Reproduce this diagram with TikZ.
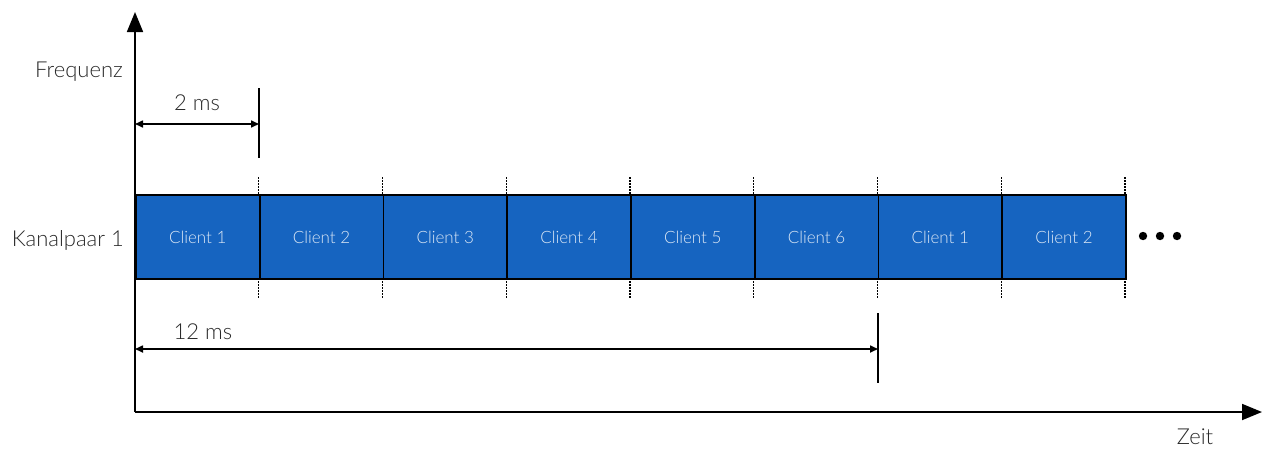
\documentclass[tikz,border=0pt]{standalone}
\usepackage{fontspec}
\setmainfont{Lato}[UprightFont=* Light]
\usetikzlibrary{arrows.meta}
\definecolor{slotblue}{RGB}{22,100,192}
\definecolor{labelgray}{RGB}{40,40,40}
\begin{document}
\begin{tikzpicture}[x=1pt,y=-1pt,
  axis/.style={line width=1.8pt,-{Triangle[length=20pt,width=16pt]}},
  slot/.style={draw=black,line width=1.8pt,fill=slotblue,minimum width=123.75pt,minimum height=84pt,inner sep=0pt,anchor=north west,text=white!85!slotblue,font=\fontsize{17}{20}\selectfont},
  tick/.style={line width=1.2pt,dash pattern=on 1.5pt off 1.5pt},
  dim/.style={line width=1.6pt,{Triangle[length=8pt,width=7pt]}-{Triangle[length=8pt,width=7pt]}},
  bar/.style={line width=1.8pt},
  lbl/.style={text=labelgray,font=\fontsize{22}{26}\selectfont,inner sep=0pt}]
\useasboundingbox (0,0) rectangle (1265,448);
% axes
\coordinate (O) at (135,412);
\coordinate (ytop) at (135,12);
\coordinate (xend) at (1262,412);
\draw[axis] (O) -- (ytop);
\draw[axis] (O) -- (xend);
\node[lbl,anchor=east] (freq) at (123,72) {Frequenz};
\node[lbl] (zeit) at (1195,437) {Zeit};
\node[lbl,anchor=east] (kanal) at (124,240) {Kanalpaar 1};
% time slots
\foreach \c [count=\i from 0] in {1,2,3,4,5,6,1,2} {
  \node[slot] (s\i) at (135+123.75*\i,194) {Client \c};
}
% slot boundary ticks
\foreach \i in {1,...,8} {
  \draw[tick] (135+123.75*\i,177) -- (135+123.75*\i,194);
  \draw[tick] (135+123.75*\i,278) -- (135+123.75*\i,298);
}
% continuation dots
\foreach \x in {1143,1160,1177}
  \fill (\x,236) circle (4.2pt);
% 2 ms span
\coordinate (b2top) at (259,88);
\coordinate (b2bot) at (259,158);
\draw[bar] (b2top) -- (b2bot);
\coordinate (a2l) at (135,124);
\coordinate (a2r) at (259,124);
\draw[dim] (a2l) -- (a2r);
\node[lbl] (t2) at (197,103) {2 ms};
% 12 ms span
\coordinate (b12top) at (878,313);
\coordinate (b12bot) at (878,383);
\draw[bar] (b12top) -- (b12bot);
\coordinate (a12l) at (135,349);
\coordinate (a12r) at (878,349);
\draw[dim] (a12l) -- (a12r);
\node[lbl] (t12) at (203,332) {12 ms};
\end{tikzpicture}
\end{document}
